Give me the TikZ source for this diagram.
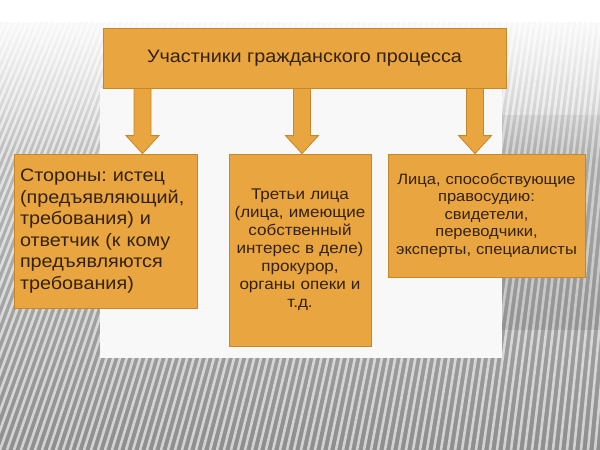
\documentclass[tikz,border=0pt]{standalone}
\usepackage{fontspec}
\setmainfont{Liberation Sans}[FakeStretch=1.1]
\usepackage{tikz}
\usetikzlibrary{calc,fadings}
\definecolor{gpfill} {HTML}{E9A53F}
\definecolor{gpedge} {HTML}{C4872C}
\definecolor{gpink}  {HTML}{33220E}
\definecolor{gptop}  {HTML}{D0D0D0}
\definecolor{gpbot}  {HTML}{8E8E8E}
\definecolor{gppanel}{HTML}{F8F8F8}
\tikzfading[name=gpfade, top color=transparent!0, bottom color=transparent!100]
\tikzset{
  gpbox/.style={draw=gpedge, fill=gpfill, line width=0.8pt, text=gpink,
                inner xsep=6pt, inner ysep=0pt},
  gptitle/.style={gpbox, minimum width=403pt, minimum height=60pt,
                  font=\fontsize{18}{21}\selectfont},
  gpside/.style={gpbox, align=left, text width=171pt, minimum height=154pt,
                 font=\fontsize{18}{21.5}\selectfont},
  gpmid/.style={gpbox, inner xsep=1pt, align=center, text width=140pt,
                minimum height=192pt, font=\fontsize{15.5}{18}\selectfont},
  gphelp/.style={gpbox, inner xsep=1pt, align=center, text width=195pt,
                 minimum height=123pt, font=\fontsize{15}{17.5}\selectfont},
  gparrow/.style={draw=gpedge, fill=gpfill, line width=0.8pt, line join=miter},
  gpstripe/.style={draw=white, line width=2.6pt, opacity=0.6},
}
\newcommand{\gpblock}[2]{%
  \draw[gparrow] let \p1=(#1), \p2=(#2) in
    (\x1-8.5pt,\y1) -- (\x1+8.5pt,\y1) -- (\x1+8.5pt,\y2+18pt)
    -- (\x1+16.5pt,\y2+18pt) -- (\x2,\y2) -- (\x1-16.5pt,\y2+18pt)
    -- (\x1-8.5pt,\y2+18pt) -- cycle;}
\frenchspacing

\begin{document}
\begin{tikzpicture}[x=1pt,y=-1pt]
  \useasboundingbox (0,0) rectangle (600,450);
  \begin{scope}
    \clip (0,0) rectangle (600,450);
    \shade[top color=gptop, bottom color=gpbot] (0,0) rectangle (600,450);
    \foreach \sx in {-210,-203,...,610}
      \draw[gpstripe] (\sx,450) -- ({0.8*\sx+160},0);
    \fill[black, opacity=0.08] (502,115) rectangle (600,330);
    \fill[white, path fading=gpfade] (0,0) rectangle (600,160);
    \fill[white] (0,0) rectangle (600,22);
  \end{scope}
  \fill[gppanel] (100,88) rectangle (502,358);

  \node[gptitle] (title) at (304.5,58) {Участники гражданского процесса};
  \node[gpside]  (sides) at (105.5,231)
    {Стороны: истец\\(предъявляющий,\\требования) и\\ответчик (к кому\\предъявляются\\требования)};
  \node[gpmid]   (third) at (300,250)
    {Третьи лица\\(лица, имеющие\\собственный\\интерес в деле)\\прокурор,\\органы опеки и\\т.д.};
  \node[gphelp]  (help)  at (486.5,215.5)
    {Лица, способствующие\\правосудию:\\свидетели,\\переводчики,\\эксперты, специалисты};

  \coordinate (aL) at (142.5,0);
  \coordinate (aM) at (302,0);
  \coordinate (aR) at (475,0);
  \gpblock{title.south -| aL}{sides.north -| aL}
  \gpblock{title.south -| aM}{third.north -| aM}
  \gpblock{title.south -| aR}{help.north -| aR}
\end{tikzpicture}
\end{document}
